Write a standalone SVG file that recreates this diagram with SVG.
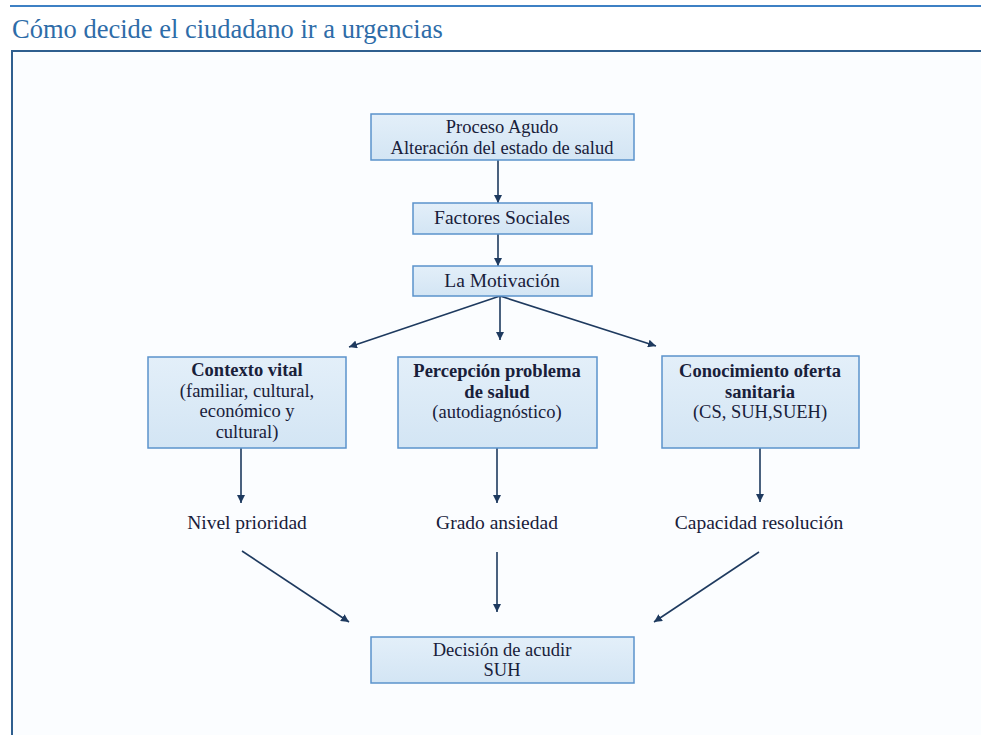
<svg xmlns="http://www.w3.org/2000/svg" width="981" height="735" viewBox="0 0 981 735">
<style>
.frame{fill:none;stroke:#2f5f8f;stroke-width:2}
.box{fill:url(#bg);stroke:#5b93cc;stroke-width:1.5}
.t{font-family:"Liberation Serif","Times New Roman",serif;font-size:18.5px;fill:#18203a;text-anchor:middle}
.l{font-size:19.5px}
.b{font-weight:bold}
.title{font-family:"Liberation Serif","Times New Roman",serif;font-size:26.5px;fill:#2e6ca8}
.c{stroke:#1e3a5f;stroke-width:1.6;fill:none;marker-end:url(#ah)}
</style>
<defs>
<marker id="ah" viewBox="0 0 10 10" refX="10" refY="5" markerWidth="8" markerHeight="8" markerUnits="userSpaceOnUse" orient="auto">
<path d="M0,0 L10,5 L0,10 z" fill="#1e3a5f"/>
</marker>
<linearGradient id="bg" x1="0" y1="0" x2="0" y2="1">
<stop offset="0" stop-color="#e3eff9"/>
<stop offset="1" stop-color="#d3e5f4"/>
</linearGradient>
</defs>
<rect x="0" y="0" width="981" height="735" fill="#ffffff"/>
<rect x="12" y="51" width="969" height="684" fill="#fbfdff"/>
<line x1="10" y1="6" x2="981" y2="6" stroke="#3d80c4" stroke-width="2"/>
<text class="title" x="12" y="38">Cómo decide el ciudadano ir a urgencias</text>
<path class="frame" d="M981,51 H12 V735"/>

<g id="connectors">
<line class="c" x1="498" y1="160" x2="498" y2="203"/>
<line class="c" x1="498" y1="234" x2="498" y2="266"/>
<line class="c" x1="500" y1="296" x2="349" y2="347"/>
<line class="c" x1="500" y1="296" x2="500" y2="340"/>
<line class="c" x1="500" y1="296" x2="656" y2="346"/>
<line class="c" x1="241" y1="448" x2="241" y2="503"/>
<line class="c" x1="497" y1="448" x2="497" y2="503"/>
<line class="c" x1="760" y1="448" x2="760" y2="502"/>
<line class="c" x1="242" y1="551" x2="349" y2="622"/>
<line class="c" x1="497" y1="552" x2="497" y2="612"/>
<line class="c" x1="759" y1="552" x2="654" y2="622"/>
</g>

<g id="proceso">
<rect class="box" x="371" y="114" width="263" height="46"/>
<text class="t" x="502" y="133">Proceso Agudo</text>
<text class="t" x="502" y="153.5">Alteración del estado de salud</text>
</g>
<g id="factores">
<rect class="box" x="413" y="203" width="179" height="31"/>
<text class="t l" x="502" y="224">Factores  Sociales</text>
</g>
<g id="motivacion">
<rect class="box" x="413" y="266" width="179" height="30"/>
<text class="t l" x="502" y="287">La Motivación</text>
</g>
<g id="contexto">
<rect class="box" x="148" y="357" width="198" height="91"/>
<text class="t b" x="247" y="376">Contexto vital</text>
<text class="t" x="247" y="396.5">(familiar, cultural,</text>
<text class="t" x="247" y="417">económico y</text>
<text class="t" x="247" y="437.5">cultural)</text>
</g>
<g id="percepcion">
<rect class="box" x="398" y="357" width="199" height="91"/>
<text class="t b" x="497" y="377">Percepción problema</text>
<text class="t b" x="497" y="397.5">de salud</text>
<text class="t" x="497" y="418">(autodiagnóstico)</text>
</g>
<g id="conocimiento">
<rect class="box" x="662" y="356" width="197" height="92"/>
<text class="t b" x="760" y="377">Conocimiento oferta</text>
<text class="t b" x="760" y="397.5">sanitaria</text>
<text class="t" x="760" y="418">(CS, SUH,SUEH)</text>
</g>
<g id="nivel">
<text class="t l" x="247" y="529">Nivel prioridad</text>
</g>
<g id="grado">
<text class="t l" x="497" y="529">Grado  ansiedad</text>
</g>
<g id="capacidad">
<text class="t l" x="759" y="529">Capacidad resolución</text>
</g>
<g id="decision">
<rect class="box" x="371" y="637" width="263" height="46"/>
<text class="t" x="502" y="655.5">Decisión de acudir</text>
<text class="t" x="502" y="676">SUH</text>
</g>
</svg>
